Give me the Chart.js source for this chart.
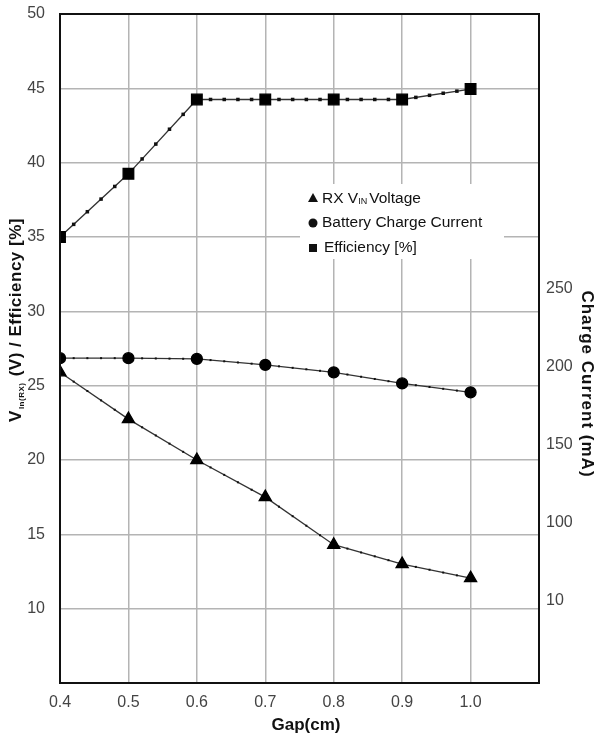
<!DOCTYPE html>
<html>
<head>
<meta charset="utf-8">
<script src="https://cdn.jsdelivr.net/npm/chart.js@4/dist/chart.umd.min.js"></script>
<style>
  body { margin:0; background:#fff; }
  #wrap { width:599px; height:741px; }
</style>
</head>
<body>
<div id="wrap"><canvas id="gapChart" width="599" height="741"></canvas></div>
<script>
// Data
const gap = [0.4, 0.5, 0.6, 0.7, 0.8, 0.9, 1.0];
const rxVoltage = [25.9, 22.75, 20.0, 17.5, 14.3, 13.0, 12.05];
const batteryCurrent = [26.85, 26.85, 26.8, 26.4, 25.9, 25.15, 24.55];
const efficiency = [35.0, 39.25, 44.25, 44.25, 44.25, 44.25, 44.95];

const xTicks = [0.4, 0.5, 0.6, 0.7, 0.8, 0.9, 1.0, 1.1];
const leftTicks = [5, 10, 15, 20, 25, 30, 35, 40, 45, 50];
const rightTicks = [50, 100, 150, 200, 250];
const rightTickLabels = ['10', '100', '150', '200', '250'];

const FONT = '"Liberation Sans", Arial, sans-serif';
const pts = ys => gap.map((g, i) => ({ x: g, y: ys[i] }));

// small dots along each segment
const segmentDots = {
  id: 'segmentDots',
  afterDatasetsDraw(chart) {
    const ctx = chart.ctx;
    chart.data.datasets.forEach((ds, di) => {
      const els = chart.getDatasetMeta(di).data;
      ctx.save();
      ctx.fillStyle = '#111';
      for (let i = 0; i < els.length - 1; i++) {
        for (let k = 1; k < 5; k++) {
          const t = k / 5;
          const x = els[i].x + (els[i + 1].x - els[i].x) * t;
          const y = els[i].y + (els[i + 1].y - els[i].y) * t;
          const s = ds.dotSize;
          ctx.fillRect(x - s / 2, y - s / 2, s, s);
        }
      }
      ctx.restore();
    });
  }
};

// frame, custom legend and axis titles
const decorations = {
  id: 'decorations',
  afterDraw(chart) {
    const ctx = chart.ctx;
    const a = chart.chartArea;
    ctx.save();
    ctx.strokeStyle = '#111';
    ctx.lineWidth = 2;
    ctx.strokeRect(a.left, a.top, a.right - a.left, a.bottom - a.top);

    // legend
    ctx.fillStyle = '#fff';
    ctx.fillRect(300, 184, 204, 75);
    ctx.fillStyle = '#111';
    ctx.textBaseline = 'middle';
    const mx = 313, tx = 322;
    ctx.beginPath();
    ctx.moveTo(mx, 193); ctx.lineTo(mx + 5, 202); ctx.lineTo(mx - 5, 202); ctx.closePath(); ctx.fill();
    ctx.font = '15.5px ' + FONT;
    ctx.fillText('RX V', tx, 199);
    let w = ctx.measureText('RX V').width;
    ctx.font = '9px ' + FONT;
    ctx.fillText('IN', tx + w, 202);
    w += ctx.measureText('IN').width + 2;
    ctx.font = '15.5px ' + FONT;
    ctx.fillText('Voltage', tx + w, 199);
    ctx.beginPath(); ctx.arc(mx, 223, 4.5, 0, Math.PI * 2); ctx.fill();
    ctx.fillText('Battery Charge Current', tx, 223);
    ctx.fillRect(mx - 4, 244, 8, 8);
    ctx.fillText('Efficiency [%]', tx + 2, 248);

    // left title
    ctx.save();
    ctx.translate(21, 320);
    ctx.rotate(-Math.PI / 2);
    ctx.textBaseline = 'alphabetic';
    ctx.letterSpacing = '0.5px';
    const big = 'bold 17px ' + FONT, small = 'bold 8px ' + FONT;
    ctx.font = big; const w1 = ctx.measureText('V').width;
    ctx.font = small; const w2 = ctx.measureText('In(RX)').width;
    ctx.font = big; const w3 = ctx.measureText(' (V) / Efficiency [%]').width;
    const x0 = -(w1 + w2 + 2 + w3) / 2;
    ctx.font = big; ctx.fillText('V', x0, 0);
    ctx.font = small; ctx.fillText('In(RX)', x0 + w1 + 1, 3);
    ctx.font = big; ctx.fillText(' (V) / Efficiency [%]', x0 + w1 + w2 + 2, 0);
    ctx.restore();

    // right title
    ctx.save();
    ctx.translate(587, 384);
    ctx.rotate(Math.PI / 2);
    ctx.textAlign = 'center';
    ctx.textBaseline = 'middle';
    ctx.letterSpacing = '1px';
    ctx.font = 'bold 17px ' + FONT;
    ctx.fillText('Charge Current (mA)', 0, 0);
    ctx.restore();

    // x title
    ctx.textAlign = 'center';
    ctx.textBaseline = 'middle';
    ctx.font = 'bold 17px ' + FONT;
    ctx.fillText('Gap(cm)', 306, 725);
    ctx.restore();
  }
};

const lineStyle = {
  borderColor: '#333',
  backgroundColor: '#000',
  pointBorderColor: '#000',
  borderWidth: 1.3,
  tension: 0,
  fill: false,
  yAxisID: 'y'
};

const fixY = s => { s.width = 60; s.paddingTop = 0; s.paddingBottom = 0; };

new Chart(document.getElementById('gapChart').getContext('2d'), {
  type: 'line',
  data: {
    datasets: [
      { ...lineStyle, label: 'RX VIN Voltage', data: pts(rxVoltage), pointStyle: 'triangle', pointRadius: 7, dotSize: 2 },
      { ...lineStyle, label: 'Battery Charge Current', data: pts(batteryCurrent), pointStyle: 'circle', pointRadius: 5.5, dotSize: 2 },
      { ...lineStyle, label: 'Efficiency [%]', data: pts(efficiency), pointStyle: 'rect', pointRadius: 7.5, dotSize: 3.5 }
    ]
  },
  options: {
    responsive: false,
    animation: false,
    layout: { padding: { top: 14, left: 0, right: 0, bottom: 0 } },
    plugins: { legend: { display: false }, tooltip: { enabled: false } },
    scales: {
      x: {
        type: 'linear', min: 0.4, max: 1.1,
        afterBuildTicks: s => { s.ticks = xTicks.map(v => ({ value: v })); },
        afterFit: s => { s.height = 58; s.paddingLeft = 0; s.paddingRight = 0; },
        ticks: {
          callback: v => (v <= 1.0001 ? v.toFixed(1) : ''),
          color: '#444', font: { size: 16, family: FONT }, padding: 10, maxRotation: 0
        },
        grid: { color: '#b4b4b4', lineWidth: 1.5, drawTicks: false },
        border: { display: true, color: '#111', width: 2 }
      },
      y: {
        position: 'left', min: 5, max: 50,
        afterBuildTicks: s => { s.ticks = leftTicks.map(v => ({ value: v })); },
        afterFit: fixY,
        ticks: {
          callback: v => (v === 5 ? '' : String(v)),
          color: '#444', font: { size: 16, family: FONT }, padding: 15
        },
        grid: { color: '#b4b4b4', lineWidth: 1.5, drawTicks: false },
        border: { display: true, color: '#111', width: 2 }
      },
      y2: {
        position: 'right', min: -3, max: 426,
        afterBuildTicks: s => { s.ticks = rightTicks.map(v => ({ value: v })); },
        afterFit: fixY,
        ticks: {
          callback: v => rightTickLabels[rightTicks.indexOf(v)],
          color: '#444', font: { size: 16, family: FONT }, padding: 7
        },
        grid: { display: false, drawTicks: false },
        border: { display: true, color: '#111', width: 2 }
      }
    }
  },
  plugins: [segmentDots, decorations]
});
</script>
</body>
</html>
